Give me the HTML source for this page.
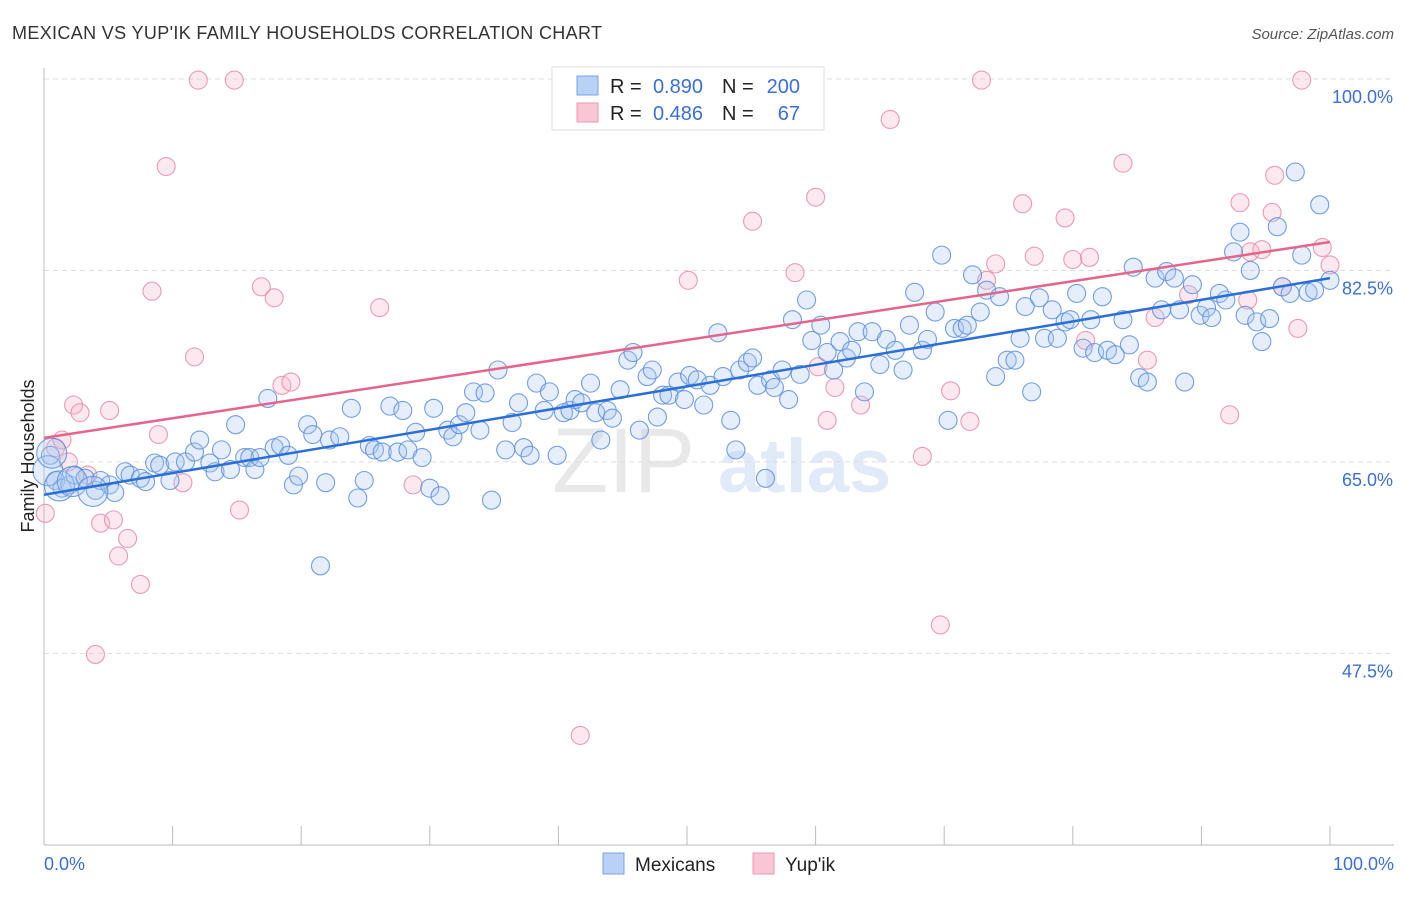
<!DOCTYPE html>
<html><head><meta charset="utf-8"><style>
body{margin:0;background:#fff;font-family:"Liberation Sans",sans-serif}
svg text{font-family:"Liberation Sans",sans-serif}
</style></head><body>
<svg id="c" width="1406" height="892" xmlns="http://www.w3.org/2000/svg">
<text x="12" y="39" font-size="18" fill="#333" textLength="590">MEXICAN VS YUP'IK FAMILY HOUSEHOLDS CORRELATION CHART</text>
<text x="1394" y="39" font-size="15" fill="#555" font-style="italic" text-anchor="end">Source: ZipAtlas.com</text>
<g opacity="0.22">
<text x="552" y="492" font-size="92" fill="#999" font-family="Liberation Serif, serif">ZIP</text>
<text x="718" y="492" font-size="76" fill="#7aa3e0" font-weight="bold">atlas</text>
</g>
<g id="grid"></g><g id="axes"></g><g id="pink"></g><g id="blue"></g><g id="lines"></g>
<text transform="translate(34,456) rotate(-90)" font-size="18" fill="#222" text-anchor="middle">Family Households</text>
<text x="44" y="870" font-size="18" fill="#3b6fd6">0.0%</text>
<text x="1394" y="870" font-size="18" fill="#3b6fd6" text-anchor="end">100.0%</text>
<g>
<rect x="552" y="67" width="272" height="63" fill="#fff" stroke="#ddd"/>
<rect x="577" y="76" width="21" height="19" fill="#b8d1f5" stroke="#7aa3e0"/>
<rect x="577" y="103" width="21" height="19" fill="#f9c6d5" stroke="#eb98b2"/>
<text x="610" y="93" font-size="20" fill="#222">R =</text>
<text x="703" y="93" font-size="20" fill="#3b6fd6" text-anchor="end">0.890</text>
<text x="722" y="93" font-size="20" fill="#222">N =</text>
<text x="800" y="93" font-size="20" fill="#3b6fd6" text-anchor="end">200</text>
<text x="610" y="120" font-size="20" fill="#222">R =</text>
<text x="703" y="120" font-size="20" fill="#3b6fd6" text-anchor="end">0.486</text>
<text x="722" y="120" font-size="20" fill="#222">N =</text>
<text x="800" y="120" font-size="20" fill="#3b6fd6" text-anchor="end">67</text>
</g>
<g>
<rect x="603" y="853" width="21" height="21" fill="#b8d1f5" stroke="#7aa3e0"/>
<text x="635" y="871" font-size="19" fill="#222">Mexicans</text>
<rect x="753" y="853" width="21" height="21" fill="#f9c6d5" stroke="#eb98b2"/>
<text x="785" y="871" font-size="19" fill="#222">Yup'ik</text>
</g>
</svg>
<script>
const yTicks=[100,82.5,65,47.5];
const yTickLabels=["100.0%","82.5%","65.0%","47.5%"];
const xTicks=[0,10,20,30,40,50,60,70,80,90,100];
const blueX=[0.5,0.9,1.4,2.0,2.4,3.2,4.0,4.4,5.1,5.5,6.3,6.7,7.5,7.9,8.6,9.0,9.8,10.2,11.0,11.7,12.1,12.9,13.3,13.8,14.5,14.9,15.6,16.0,16.4,16.8,17.4,17.9,18.4,19.0,19.4,19.8,20.5,20.9,21.5,21.9,22.2,23.0,23.9,24.4,24.9,25.3,25.7,26.3,26.9,27.5,27.9,28.3,28.9,29.4,30.0,30.3,30.8,31.4,31.8,32.3,32.8,33.4,33.9,34.3,34.8,35.3,35.9,36.4,36.9,37.3,37.8,38.3,38.9,39.3,39.9,40.4,40.9,41.3,41.8,42.5,42.9,43.3,43.8,44.2,44.8,45.4,45.8,46.3,46.9,47.3,47.7,48.1,48.6,49.3,49.8,50.2,50.8,51.3,51.8,52.4,52.8,53.4,53.8,54.1,54.7,55.1,55.5,56.1,56.5,56.8,57.4,57.9,58.2,58.8,59.3,59.7,60.4,60.9,61.4,61.9,62.4,62.8,63.3,63.8,64.4,65.0,65.5,66.2,66.8,67.3,67.7,68.3,68.7,69.3,69.8,70.3,70.8,71.4,71.8,72.2,72.8,73.3,74.0,74.3,74.9,75.5,75.9,76.3,76.8,77.4,77.8,78.4,78.8,79.4,79.8,80.3,80.8,81.4,81.7,82.3,82.7,83.3,83.9,84.4,84.7,85.2,85.8,86.4,86.9,87.3,87.9,88.3,88.7,89.3,89.9,90.4,90.8,91.4,91.9,92.5,93.0,93.4,93.8,94.3,94.7,95.3,95.9,96.3,96.9,97.3,97.8,98.3,98.8,99.2,100];
const blueY=[65.6,63.3,62.6,62.9,63.8,63.5,62.4,63.3,62.9,62.2,64.1,63.8,63.5,63.2,64.9,64.7,63.3,65.0,65.0,65.9,67.0,64.9,64.1,66.1,64.3,68.4,65.4,65.4,64.3,65.4,70.8,66.3,66.5,65.6,62.9,63.7,68.4,67.5,55.5,63.1,67.0,67.3,69.9,61.7,63.3,66.5,66.1,65.9,70.1,65.9,69.7,66.1,67.7,65.4,62.6,69.9,61.9,67.9,67.3,68.4,69.5,71.4,67.9,71.3,61.5,73.4,66.1,68.6,70.4,66.3,65.6,72.2,69.7,71.4,65.6,69.5,69.7,70.7,70.4,72.2,69.5,67.0,69.7,69.0,71.6,74.3,75.0,67.9,72.8,73.4,69.1,71.1,71.1,72.3,70.7,72.9,72.5,70.2,72.0,76.8,72.8,68.8,66.1,73.4,74.1,74.5,72.0,63.5,72.5,71.8,73.4,70.7,78.0,73.0,79.8,76.1,77.5,75.0,73.4,76.0,74.5,75.2,76.9,71.4,76.9,73.9,76.2,75.2,73.4,77.5,80.5,75.2,76.2,78.7,83.9,68.8,77.2,77.2,77.5,82.1,78.7,80.7,72.8,80.1,74.3,74.3,76.3,79.2,71.4,80.0,76.3,78.9,76.3,77.8,78.0,80.4,75.4,78.0,75.0,80.1,75.2,74.8,78.0,75.7,82.8,72.7,72.3,81.8,78.9,82.4,81.8,78.9,72.3,81.2,78.4,79.1,78.2,80.4,79.8,84.2,86.0,78.4,82.5,77.8,76.0,78.1,86.5,81.0,80.4,91.5,83.9,80.5,80.7,88.5,81.6];
const blueBigX=[0.3,1.2,2.2,3.8,0.6];
const blueBigY=[64.2,62.8,63.2,62.3,65.8];
const pinkX=[0.1,0.9,1.4,1.9,2.3,2.8,3.4,4.0,4.4,5.1,5.4,5.8,6.5,7.5,8.4,8.9,9.5,10.8,11.7,12.0,14.8,15.2,16.9,17.9,18.5,19.2,26.1,28.7,41.7,50.1,55.1,58.4,60.0,60.2,60.9,61.5,63.5,65.8,68.3,69.7,70.5,72.0,72.9,73.3,74.0,76.1,77.0,79.4,80.0,81.0,81.3,83.9,85.8,86.4,89.0,92.2,93.0,93.6,93.8,94.7,95.5,95.7,96.3,97.5,97.8,99.4,100];
const pinkY=[60.3,66.3,67.0,65.0,70.2,69.5,63.8,47.4,59.4,69.7,59.7,56.4,58.0,53.8,80.6,67.5,92.0,63.1,74.6,99.9,99.9,60.6,81.0,80.0,72.0,72.3,79.1,62.9,40.0,81.6,87.0,82.3,89.2,73.7,68.8,71.8,70.2,96.3,65.5,50.1,71.5,68.7,99.9,81.6,83.1,88.6,83.8,87.3,83.5,76.1,83.7,92.3,74.3,78.2,80.3,69.3,88.7,79.8,84.2,84.4,87.8,91.2,81.0,77.2,99.9,84.6,83.0];
const blueTrend=[62.0,81.8];
const pinkTrend=[67.2,85.1];

const NS="http://www.w3.org/2000/svg";
const X=v=>44+v*12.86;
const Y=v=>79+(100-v)*10.94;
function mk(parent,tag,attrs){const e=document.createElementNS(NS,tag);for(const k in attrs)e.setAttribute(k,attrs[k]);document.getElementById(parent).appendChild(e);return e;}
yTicks.forEach((t,i)=>{
 const l=mk('grid','line',{x1:44,x2:1394,y1:Y(t),y2:Y(t),stroke:'#ddd','stroke-dasharray':'5,4'});
 
 
 const tx=mk('grid','text',{x:1393,y:Y(t)+24,'font-size':18,fill:'#3b6fd6','text-anchor':'end'});
 tx.textContent=yTickLabels[i];
 
 
});
const ax=mk('axes','line',{x1:44,x2:1394,y1:845,y2:845,stroke:'#bbb'});


const ay=mk('axes','line',{x1:44,x2:44,y1:68,y2:845,stroke:'#bbb'});


xTicks.forEach(t=>{
 const l=mk('axes','line',{x1:X(t),x2:X(t),y1:826,y2:845,stroke:'#bbb'});
 
 
});
function dots(g,xs,ys,r,fill,stroke,name){
 xs.forEach((x,i)=>{
  const c=mk(g,'circle',{cx:X(x),cy:Y(ys[i]),r:r,fill:fill,'fill-opacity':0.3,stroke:stroke,'stroke-width':1.1,'stroke-opacity':0.85});
  
  
 });
}
dots('pink',pinkX,pinkY,9,'#f5b6c9','#e889a8','yupik-point');
dots('blue',blueX,blueY,9,'#a9c6f0','#5a8ede','mexican-point');
dots('blue',blueBigX,blueBigY,15,'#a9c6f0','#5a8ede','mexican-point-large');
const bl=mk('lines','line',{x1:X(0),y1:Y(blueTrend[0]),x2:X(100),y2:Y(blueTrend[1]),stroke:'#2b6fd6','stroke-width':2.5});


const pl=mk('lines','line',{x1:X(0),y1:Y(pinkTrend[0]),x2:X(100),y2:Y(pinkTrend[1]),stroke:'#e4648c','stroke-width':2.5});


</script>
</body></html>
